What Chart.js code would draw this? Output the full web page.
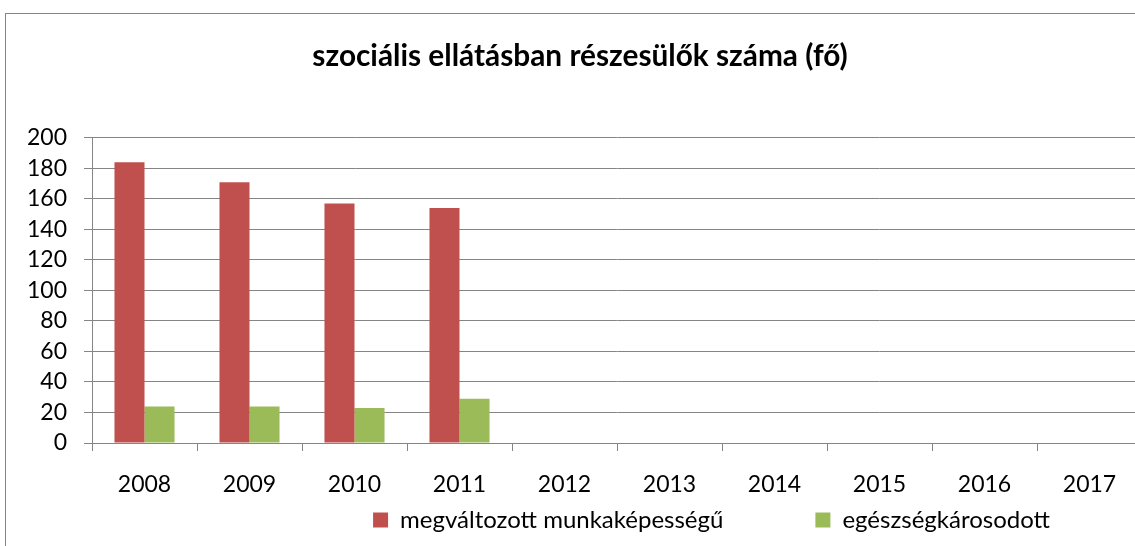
<!DOCTYPE html>
<html>
<head>
<meta charset="utf-8">
<script src="https://cdn.jsdelivr.net/npm/chart.js@4/dist/chart.umd.min.js"></script>
<style>
  html, body { margin: 0; padding: 0; background: #fff; overflow: hidden; }
  #wrap { width: 1150px; height: 546px; }
</style>
</head>
<body>
<div id="wrap"><canvas id="chart" width="1150" height="546"></canvas></div>
<script>
const years = ['2008', '2009', '2010', '2011', '2012', '2013', '2014', '2015', '2016', '2017'];
const megvaltozott = [184, 171, 157, 154, null, null, null, null, null, null];
const egeszsegkarosodott = [24, 24, 23, 29, null, null, null, null, null, null];
const yTicks = [0, 20, 40, 60, 80, 100, 120, 140, 160, 180, 200];

const FONT = 'Lato, "Liberation Sans", sans-serif';
const GRID = '#858585';

// thin grey frame around the whole chart object
const frame = {
  id: 'frame',
  beforeDraw(chart) {
    const ctx = chart.ctx;
    ctx.save();
    ctx.strokeStyle = GRID;
    ctx.lineWidth = 1;
    ctx.strokeRect(5.5, 13.5, chart.width + 20, chart.height + 20);
    ctx.restore();
  }
};

// the legend padding doubles as the gap between items; after layout, grow
// the legend box upwards so the row sits just under the axis labels
const legendLift = {
  id: 'legendLift',
  afterLayout(chart) {
    const lg = chart.legend;
    lg.top = lg.top + 5 - lg.options.labels.padding;
    lg.height = lg.bottom - lg.top;
  }
};

new Chart(document.getElementById('chart'), {
  type: 'bar',
  data: {
    labels: years,
    datasets: [
      {
        label: 'megváltozott munkaképességű',
        data: megvaltozott,
        backgroundColor: '#C0504D'
      },
      {
        label: 'egészségkárosodott',
        data: egeszsegkarosodott,
        backgroundColor: '#9BBB59'
      }
    ]
  },
  options: {
    responsive: false,
    animation: false,
    devicePixelRatio: 1,
    layout: { padding: { left: 18, right: 8, top: 0, bottom: 0 } },
    datasets: {
      bar: { categoryPercentage: 0.572, barPercentage: 1.0 }
    },
    plugins: {
      title: {
        display: true,
        text: 'szociális ellátásban részesülők száma (fő)',
        color: '#000',
        font: { family: FONT, size: 29.8, weight: 'bold', lineHeight: 1.2 },
        padding: { top: 39, bottom: 63.2 }
      },
      legend: {
        position: 'bottom',
        fullSize: false,
        align: 'end',
        maxHeight: 43,
        labels: {
          color: '#000',
          font: { family: FONT, size: 24 },
          boxWidth: 15,
          boxHeight: 15,
          padding: 92
        }
      },
      tooltip: { enabled: false }
    },
    scales: {
      x: {
        grid: {
          drawOnChartArea: false,
          drawTicks: true,
          tickLength: 8,
          color: GRID
        },
        border: { color: GRID, width: 1 },
        ticks: {
          color: '#000',
          font: { family: FONT, size: 23, lineHeight: 1.2 },
          padding: 20,
          maxRotation: 0
        },
        afterFit(scale) { scale.height = 60; }
      },
      y: {
        min: 0,
        max: 200,
        afterBuildTicks(scale) { scale.ticks = yTicks.map(v => ({ value: v })); },
        grid: { color: GRID, tickLength: 8 },
        border: { color: GRID, width: 1 },
        ticks: {
          color: '#000',
          font: { family: FONT, size: 23 },
          padding: 17,
          autoSkip: false
        },
        afterFit(scale) { scale.width = 74; }
      }
    }
  },
  plugins: [frame, legendLift]
});
</script>
</body>
</html>
